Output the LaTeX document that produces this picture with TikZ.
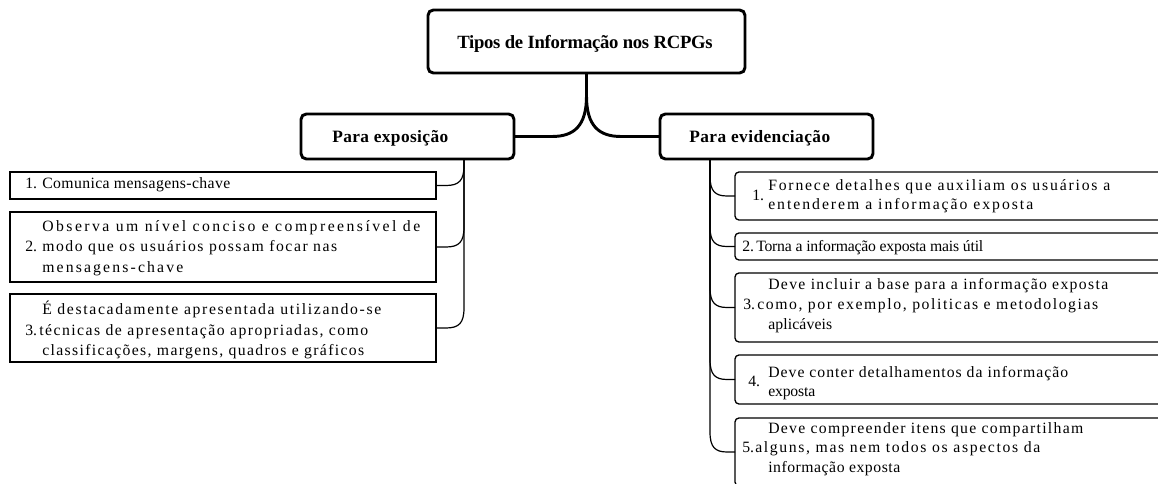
\documentclass[tikz,border=0pt]{standalone}
\usepackage{fontspec}
\setmainfont{Liberation Serif}
\usetikzlibrary{calc}
\newsavebox\fitboxA
\newsavebox\fitboxB
\newlength\fitwa
\newlength\fitwb
\newcommand\fitto[2]{%
  \sbox\fitboxA{#2}%
  \sbox\fitboxB{\addfontfeatures{LetterSpace=10}#2}%
  \setlength\fitwa{\wd\fitboxA}\setlength\fitwb{\wd\fitboxB}%
  \ifdim\fitwb=\fitwa
    \usebox\fitboxA
  \else
    \pgfmathsetmacro\fitls{max(-1.5,10*(#1*0.75-\fitwa)/(\fitwb-\fitwa))}%
    \edef\fitdo{\noexpand\addfontfeatures{LetterSpace=\fitls}}%
    \hbox{\fitdo#2}%
  \fi}
\tikzset{
  pxsize/.style 2 args={minimum width=#1*0.75pt, minimum height=#2*0.75pt},
  rootbox/.style={draw, line width=2.2pt, rounded corners=4pt, inner sep=0pt, outer sep=0pt},
  lbox/.style={draw, line width=1pt, inner sep=0pt, outer sep=0pt},
  rbox/.style={draw, line width=1pt, rounded corners=3pt, inner sep=0pt, outer sep=0pt},
  mainline/.style={line width=2.2pt},
  branchline/.style={line width=0.9pt},
  txt/.style={anchor=base west, inner sep=0pt, font=\fontsize{11.8}{14}\selectfont},
  ttl/.style={anchor=base, inner sep=0pt, font=\bfseries\fontsize{14}{16}\selectfont},
  hd/.style={anchor=base west, inner sep=0pt, font=\bfseries\fontsize{13}{15}\selectfont},
}
\begin{document}
\begin{tikzpicture}[x=0.75pt,y=-0.75pt]
\useasboundingbox (0,0) rectangle (1158,484);
\clip (0,0) rectangle (1158,484);
% boxes
\node[rootbox, pxsize={317}{63}] (root) at (586.5,41.5) {};
\node[rootbox, pxsize={213}{45}] (ex) at (407.5,136.5) {};
\node[rootbox, pxsize={213}{45}] (ev) at (766.5,136.5) {};
\node[lbox, pxsize={426}{27}] (lb1) at (223,185.5) {};
\node[lbox, pxsize={426}{70}] (lb2) at (223,247) {};
\node[lbox, pxsize={426}{68}] (lb3) at (223,328) {};
\node[rbox, pxsize={440}{48}] (rb1) at (955,196) {};
\node[rbox, pxsize={440}{27}] (rb2) at (955,246.5) {};
\node[rbox, pxsize={440}{69}] (rb3) at (955,307.5) {};
\node[rbox, pxsize={440}{49}] (rb4) at (955,379.5) {};
\node[rbox, pxsize={440}{68}] (rb5) at (955,452) {};
% titles
\node[ttl] (tt) at (585,49) {\fitto{250}{Tipos de Informação nos RCPGs}};
\node[hd] (tex) at (332,143) {\fitto{116}{Para exposição}};
\node[hd] (tev) at (689,143) {\fitto{141}{Para evidenciação}};
% left texts
\node[txt] (n1) at (25,189) {1.};
\node[txt] (a1) at (42,189) {\fitto{188}{Comunica mensagens-chave}};
\node[txt] (b1) at (42,231.5) {\fitto{378}{Observa um nível conciso e compreensível de}};
\node[txt] (n2) at (25,252) {2.};
\node[txt] (b2) at (42,252) {\fitto{295}{modo que os usuários possam focar nas}};
\node[txt] (b3) at (42,272.5) {\fitto{141}{mensagens-chave}};
\node[txt] (c1) at (42,314.5) {\fitto{339}{É destacadamente apresentada utilizando-se}};
\node[txt] (n3) at (25,335.5) {3.};
\node[txt] (c2) at (39,335.5) {\fitto{329}{técnicas de apresentação apropriadas, como}};
\node[txt] (c3) at (42,355.5) {\fitto{322}{classificações, margens, quadros e gráficos}};
% right texts
\node[txt] (m1) at (752,201) {1.};
\node[txt] (d1) at (768,191) {\fitto{342}{Fornece detalhes que auxiliam os usuários a}};
\node[txt] (d2) at (768,210) {\fitto{265}{entenderem a informação exposta}};
\node[txt] (m2) at (742,251.5) {2.};
\node[txt] (e1) at (756,251.5) {\fitto{227}{Torna a informação exposta mais útil}};
\node[txt] (f1) at (768,289.5) {\fitto{340}{Deve incluir a base para a informação exposta}};
\node[txt] (m3) at (743,309.5) {3.};
\node[txt] (f2) at (757,309.5) {\fitto{341}{como, por exemplo, politicas e metodologias}};
\node[txt] (f3) at (768,329.5) {\fitto{64}{aplicáveis}};
\node[txt] (m4) at (748,387) {4.};
\node[txt] (g1) at (768,377.5) {\fitto{300}{Deve conter detalhamentos da informação}};
\node[txt] (g2) at (768,396.5) {\fitto{47}{exposta}};
\node[txt] (h1) at (768,433.5) {\fitto{315}{Deve compreender itens que compartilham}};
\node[txt] (m5) at (742,452.5) {5.};
\node[txt] (h2) at (755,452.5) {\fitto{285}{alguns, mas nem todos os aspectos da}};
\node[txt] (h3) at (768,472.5) {\fitto{132}{informação exposta}};
% main connectors
\draw[mainline] (root.south) -- (586.5,96) .. controls (586.5,126) and (574,136.5) .. (552,136.5) -- (ex.east);
\draw[mainline] (root.south) -- (586.5,96) .. controls (586.5,126) and (599,136.5) .. (621,136.5) -- (ev.west);
% spines
\coordinate (ls) at (464,159);
\coordinate (rs) at (710,159);
\draw[branchline] (ls) -- (464,165.5) .. controls (464,180.5) and (459,185.5) .. (446,185.5) -- (lb1.east);
\draw[branchline] (ls) -- (464,227) .. controls (464,242) and (459,247) .. (446,247) -- (lb2.east);
\draw[branchline] (ls) -- (464,308) .. controls (464,323) and (459,328) .. (446,328) -- (lb3.east);
\draw[branchline] (rs) -- (710,176) .. controls (710,191) and (715,196) .. (727,196) -- (rb1.west);
\draw[branchline] (rs) -- (710,226.5) .. controls (710,241.5) and (715,246.5) .. (727,246.5) -- (rb2.west);
\draw[branchline] (rs) -- (710,287.5) .. controls (710,302.5) and (715,307.5) .. (727,307.5) -- (rb3.west);
\draw[branchline] (rs) -- (710,359.5) .. controls (710,374.5) and (715,379.5) .. (727,379.5) -- (rb4.west);
\draw[branchline] (rs) -- (710,432) .. controls (710,447) and (715,452) .. (727,452) -- (rb5.west);
\end{tikzpicture}
\end{document}
